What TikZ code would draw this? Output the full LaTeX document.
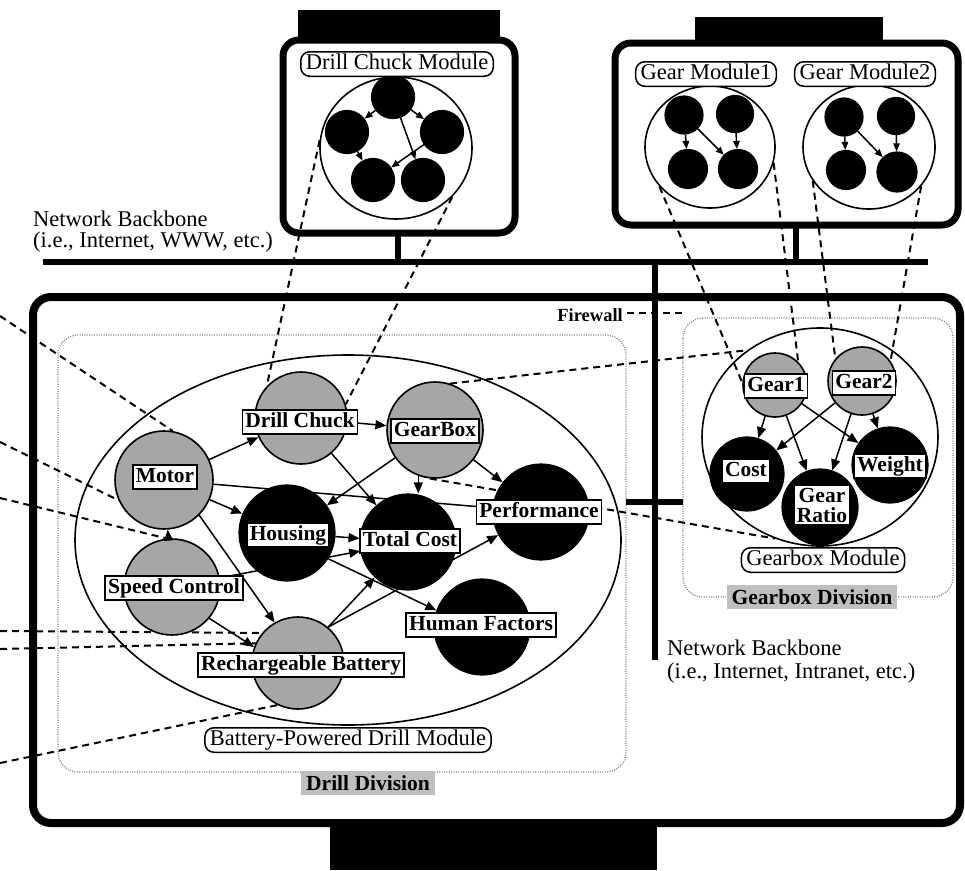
\documentclass[tikz,border=0pt]{standalone}
\usepackage{fontspec}
\setmainfont{Liberation Serif}
\usetikzlibrary{arrows.meta,shapes.geometric}
\pgfdeclarelayer{back}
\pgfdeclarelayer{mid}
\pgfsetlayers{back,mid,main}
\begin{document}
\begin{tikzpicture}[x=1pt,y=-1pt,
  every node/.style={inner sep=0pt},
  thickbox/.style={line width=7pt,rounded corners=16pt},
  backbone/.style={line width=5.5pt},
  division/.style={draw=black!50,line width=1.3pt,dash pattern=on 1pt off 1.4pt,rounded corners=20pt},
  divlabel/.style={fill=black!25,font=\fontsize{21.5}{24}\selectfont\bfseries,inner xsep=5pt,inner ysep=4pt},
  modring/.style={ellipse,draw,line width=1.6pt},
  modlabel/.style={draw,fill=white,line width=1.5pt,rounded corners=9pt,font=\fontsize{22.5}{24}\selectfont,inner xsep=5pt,inner ysep=2pt,text height=15.5pt,text depth=5pt},
  grain/.style={circle,draw,line width=1.6pt,fill=black!35},
  blk/.style={circle,draw,line width=1.2pt,fill=black},
  vlabel/.style={draw,fill=white,line width=1.6pt,font=\fontsize{21.5}{22}\selectfont\bfseries,inner xsep=3pt,inner ysep=1.5pt,text height=16pt,text depth=5pt},
  link/.style={line width=1.5pt,-{Triangle[length=11pt,width=9pt]}},
  minilink/.style={line width=1.5pt,-{Triangle[length=8pt,width=6.5pt]}},
  proj/.style={line width=2pt,dash pattern=on 7pt off 5pt},
  plain/.style={font=\fontsize{22.5}{24}\selectfont},
]
\useasboundingbox (0,0) rectangle (965,870);

% ---------- enclosures, tabs and backbone ----------
\begin{pgfonlayer}{back}
  % division areas
  \draw[division] (58,335) rectangle (626,772);
  \draw[division] (683,318) rectangle (953,597);
  % drill chuck module host
  \fill (298,10) rectangle (500,40);
  \draw[thickbox,fill=white] (283,40) rectangle (515,233);
  % gear module host
  \fill (695,17) rectangle (883,43);
  \draw[thickbox,fill=white] (615,43) rectangle (958,225);
  % company site
  \fill (330,823) rectangle (657,870);
  \draw[line width=8pt,rounded corners=18pt] (33,297) rectangle (960,823);
  % backbones
  \draw[backbone] (43,262) -- (928,262);
  \draw[backbone] (398,233) -- (398,262);
  \draw[backbone] (796,225) -- (796,262);
  \draw[backbone] (655,262) -- (655,660);
  \draw[backbone] (626,502) -- (683,502);
\end{pgfonlayer}

% ---------- module rings ----------
\node[modring,minimum width=546pt,minimum height=370pt] (bdm) at (348,540) {};
\node[modring,minimum width=236pt,minimum height=218pt] (gbm) at (820,437) {};
\node[modring,minimum width=152pt,minimum height=142pt] (dcm) at (396,148) {};
\node[modring,minimum width=130pt,minimum height=122pt] (gm1) at (710,147) {};
\node[modring,minimum width=132pt,minimum height=124pt] (gm2) at (869,147) {};

% ---------- drill chuck module contents ----------
\node[blk,minimum size=43pt] (d1) at (393,97) {};
\node[blk,minimum size=43pt] (d2) at (347,132) {};
\node[blk,minimum size=43pt] (d3) at (442,132) {};
\node[blk,minimum size=43pt] (d4) at (373,180) {};
\node[blk,minimum size=43pt] (d5) at (423,180) {};
\draw[minilink] (d1) -- (d2);
\draw[minilink] (d1) -- (d3);
\draw[minilink] (d2) -- (d4);
\draw[minilink] (d3) -- (d4);
\draw[minilink] (d1) -- (d5);

% ---------- gear modules contents ----------
\node[blk,minimum size=38pt] (a1) at (684,115) {};
\node[blk,minimum size=37pt] (a2) at (735,114) {};
\node[blk,minimum size=39pt] (a3) at (688,169) {};
\node[blk,minimum size=39pt] (a4) at (738,169) {};
\draw[minilink] (a1) -- (a3);
\draw[minilink] (a1) -- (a4);
\draw[minilink] (a2) -- (a4);
\node[blk,minimum size=38pt] (b1) at (844,117) {};
\node[blk,minimum size=37pt] (b2) at (896,116) {};
\node[blk,minimum size=39pt] (b3) at (846,170) {};
\node[blk,minimum size=40pt] (b4) at (897,172) {};
\draw[minilink] (b1) -- (b3);
\draw[minilink] (b1) -- (b4);
\draw[minilink] (b2) -- (b4);

% ---------- battery-powered drill module ----------
\node[grain,minimum size=92pt] (dc) at (301,418) {};
\node[grain,minimum size=96pt] (gb) at (435,430) {};
\node[grain,minimum size=98pt] (motor) at (164,480) {};
\node[grain,minimum size=96pt] (speed) at (172,587) {};
\node[grain,minimum size=92pt] (batt) at (298,663) {};
\node[blk,minimum size=96pt] (hous) at (287,533) {};
\node[blk,minimum size=96pt] (tc) at (408,542) {};
\node[blk,minimum size=96pt] (perf) at (541,512) {};
\node[blk,minimum size=96pt] (hf) at (482,627) {};

% ---------- gearbox module ----------
\node[grain,minimum size=64pt] (g1) at (775,385) {};
\node[grain,minimum size=68pt] (g2) at (862,381) {};
\node[blk,minimum size=74pt] (cost) at (747,474) {};
\node[blk,minimum size=76pt] (ratio) at (820,507) {};
\node[blk,minimum size=76pt] (weight) at (890,465) {};

% ---------- links between modules ----------
\coordinate (lm1) at (0,316);
\coordinate (lm2) at (0,442);
\coordinate (lm3) at (0,498);
\coordinate (lm4) at (0,631);
\coordinate (lm5) at (0,649);
\coordinate (lm6) at (0,763);
\coordinate (fwend) at (683,313);
\begin{pgfonlayer}{mid}
  \draw[proj] (dcm.174) -- (dc.137);
  \draw[proj] (dcm.-41) -- (dc.17);
  \draw[proj] (gm1.-142) -- (g1.176);
  \draw[proj] (gm1.-14) -- (g1.45);
  \draw[proj] (gm2.-149) -- (g2.140);
  \draw[proj] (gm2.-37) -- (g2.35);
  \draw[proj] (gb.72) -- (gbm.130);
  \draw[proj] (gb.-96) -- (gbm.-114);
  \draw[proj] (lm1) -- (motor.80);
  \draw[proj] (lm2) -- (motor.-156);
  \draw[proj] (lm3) -- (speed.96);
  \draw[proj] (lm4) -- (batt.140);
  \draw[proj] (lm5) -- (batt.155);
  \draw[proj] (lm6) -- (batt.-116);
\end{pgfonlayer}

% ---------- dependencies inside the drill module ----------
\draw[link] (motor) -- (dc);
\draw[link] (motor) -- (hous);
\draw[link] (motor) -- (perf);
\draw[link] (motor.-45) -- (batt.120);
\draw[link] (speed) -- (motor);
\draw[link] (speed) -- (tc);
\draw[link] (speed.-40) -- (batt.160);
\draw[link] (dc) -- (gb);
\draw[link] (dc) -- (tc);
\draw[link] (gb) -- (hous);
\draw[link] (gb.-110) -- (gb.-110 |- tc.north);
\draw[link] (gb) -- (perf);
\draw[link] (hous) -- (tc);
\draw[link] (hous.-32) -- (hf.160);
\draw[link] (batt.50) -- (tc);
\draw[link] (batt.50) -- (perf);

% ---------- dependencies inside the gearbox module ----------
\draw[link] (g1) -- (cost);
\draw[link] (g1) -- (ratio);
\draw[link] (g1) -- (weight);
\draw[link] (g2) -- (cost);
\draw[link] (g2) -- (ratio);
\draw[link] (g2) -- (weight);

% ---------- variable labels ----------
\node[vlabel] (dcL) at (300,422) {Drill Chuck};
\node[vlabel] (gbL) at (435,431) {GearBox};
\node[vlabel] (motorL) at (165,477) {Motor};
\node[vlabel] (speedL) at (174,588) {Speed Control};
\node[vlabel] (battL) at (301,665) {Rechargeable Battery};
\node[vlabel] (housL) at (288,535) {Housing};
\node[vlabel] (tcL) at (410,541) {Total Cost};
\node[vlabel] (perfL) at (539,512) {Performance};
\node[vlabel] (hfL) at (481,625) {Human Factors};
\node[vlabel] (g1L) at (776,386) {Gear1};
\node[vlabel] (g2L) at (864,383) {Gear2};
\node[vlabel] (costL) at (746,471) {Cost};
\node[vlabel] (weightL) at (890,466) {Weight};
\node[draw,fill=white,line width=1.6pt,align=center,inner xsep=3pt,inner ysep=3pt,
      font=\fontsize{21.5}{20}\selectfont\bfseries] (ratioL) at (822,505) {Gear\\Ratio};

% ---------- module labels ----------
\node[modlabel] (dcmL) at (397,64) {Drill Chuck Module};
\node[modlabel] (gm1L) at (706,74) {Gear Module1};
\node[modlabel] (gm2L) at (865,74) {Gear Module2};
\node[modlabel] (gbmL) at (823,560) {Gearbox Module};
\node[modlabel] (bdmL) at (348,740) {Battery-Powered Drill Module};

% ---------- division labels ----------
\node[divlabel] (drillDiv) at (368,783) {Drill Division};
\node[divlabel] (gearDiv) at (812,597) {Gearbox Division};

% ---------- network texts ----------
\node[plain,anchor=base west] (nb1a) at (33,226) {Network Backbone};
\node[plain,anchor=base west] (nb1b) at (33,247) {(i.e., Internet, WWW, etc.)};
\node[plain,anchor=base west] (nb2a) at (667,655) {Network Backbone};
\node[plain,anchor=base west] (nb2b) at (667,678) {(i.e., Internet, Intranet, etc.)};
\node[font=\fontsize{18.5}{20}\selectfont\bfseries,anchor=base east] (fw) at (623,321) {Firewall};
\begin{pgfonlayer}{back}
  \draw[proj,line width=1.8pt] ([xshift=4pt]fw.east |- fwend) -- (fwend);
\end{pgfonlayer}
\end{tikzpicture}
\end{document}
